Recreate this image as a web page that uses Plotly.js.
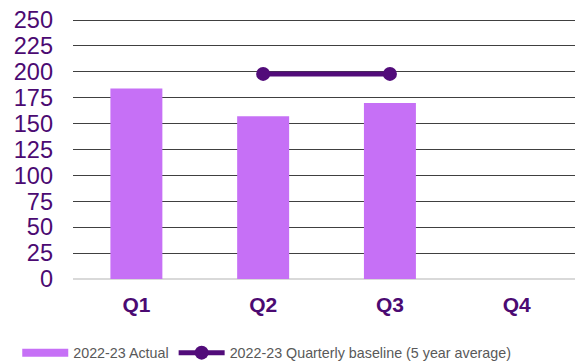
<!DOCTYPE html>
<html><head><meta charset="utf-8">
<script src="https://cdn.plot.ly/plotly-3.0.1.min.js"></script>
<style>html,body{margin:0;padding:0;background:#fff}</style>
</head><body><div id="chart" style="width:575px;height:363px"></div>
<script>
var quarters = ["Q1", "Q2", "Q3", "Q4"];
var actual = [184, 157, 170, null];
var baseline = [null, 198, 198, null];
var yTicks = [0, 25, 50, 75, 100, 125, 150, 175, 200, 225, 250];
var barName = "2022-23 Actual";
var lineName = "2022-23 Quarterly baseline (5 year average)";

var traces = [
  {type: "bar", x: quarters, y: actual, name: barName, showlegend: false,
   marker: {color: "#C670F6"}, width: 0.41},
  {type: "scatter", mode: "lines", x: [null], y: [null], name: barName,
   line: {color: "#C670F6", width: 8}, hoverinfo: "skip"},
  {type: "scatter", mode: "lines+markers", x: quarters, y: baseline,
   name: lineName,
   line: {color: "#520C7A", width: 5}, marker: {color: "#520C7A", size: 14}}
];
var layout = {
  width: 575, height: 363,
  margin: {l: 73, r: 0, t: 19, b: 84},
  paper_bgcolor: "#fff", plot_bgcolor: "#fff",
  font: {family: "Liberation Sans, Arial, sans-serif"},
  xaxis: {type: "category", range: [-0.5, 3.46], showgrid: false, showline: false, zeroline: false,
    ticks: "", tickfont: {size: 21, color: "#4B0A72", weight: "bold"}, ticklabelstandoff: 11},
  yaxis: {range: [0, 251], tickvals: yTicks, showgrid: true, gridcolor: "#404040", gridwidth: 1,
    zeroline: true, zerolinecolor: "#d9d9d9", zerolinewidth: 2,
    ticks: "", tickfont: {size: 23.5, color: "#4B0A72"}, ticklabelstandoff: 19},
  showlegend: true,
  legend: {orientation: "h", xref: "container", yref: "container", x: 0.03, xanchor: "left",
    y: 0.028, yanchor: "middle", font: {size: 14.3, color: "#595959"}, traceorder: "normal",
    itemwidth: 46},
  bargap: 0.59
};
Plotly.newPlot("chart", traces, layout, {displayModeBar: false, staticPlot: true});
</script></body></html>
